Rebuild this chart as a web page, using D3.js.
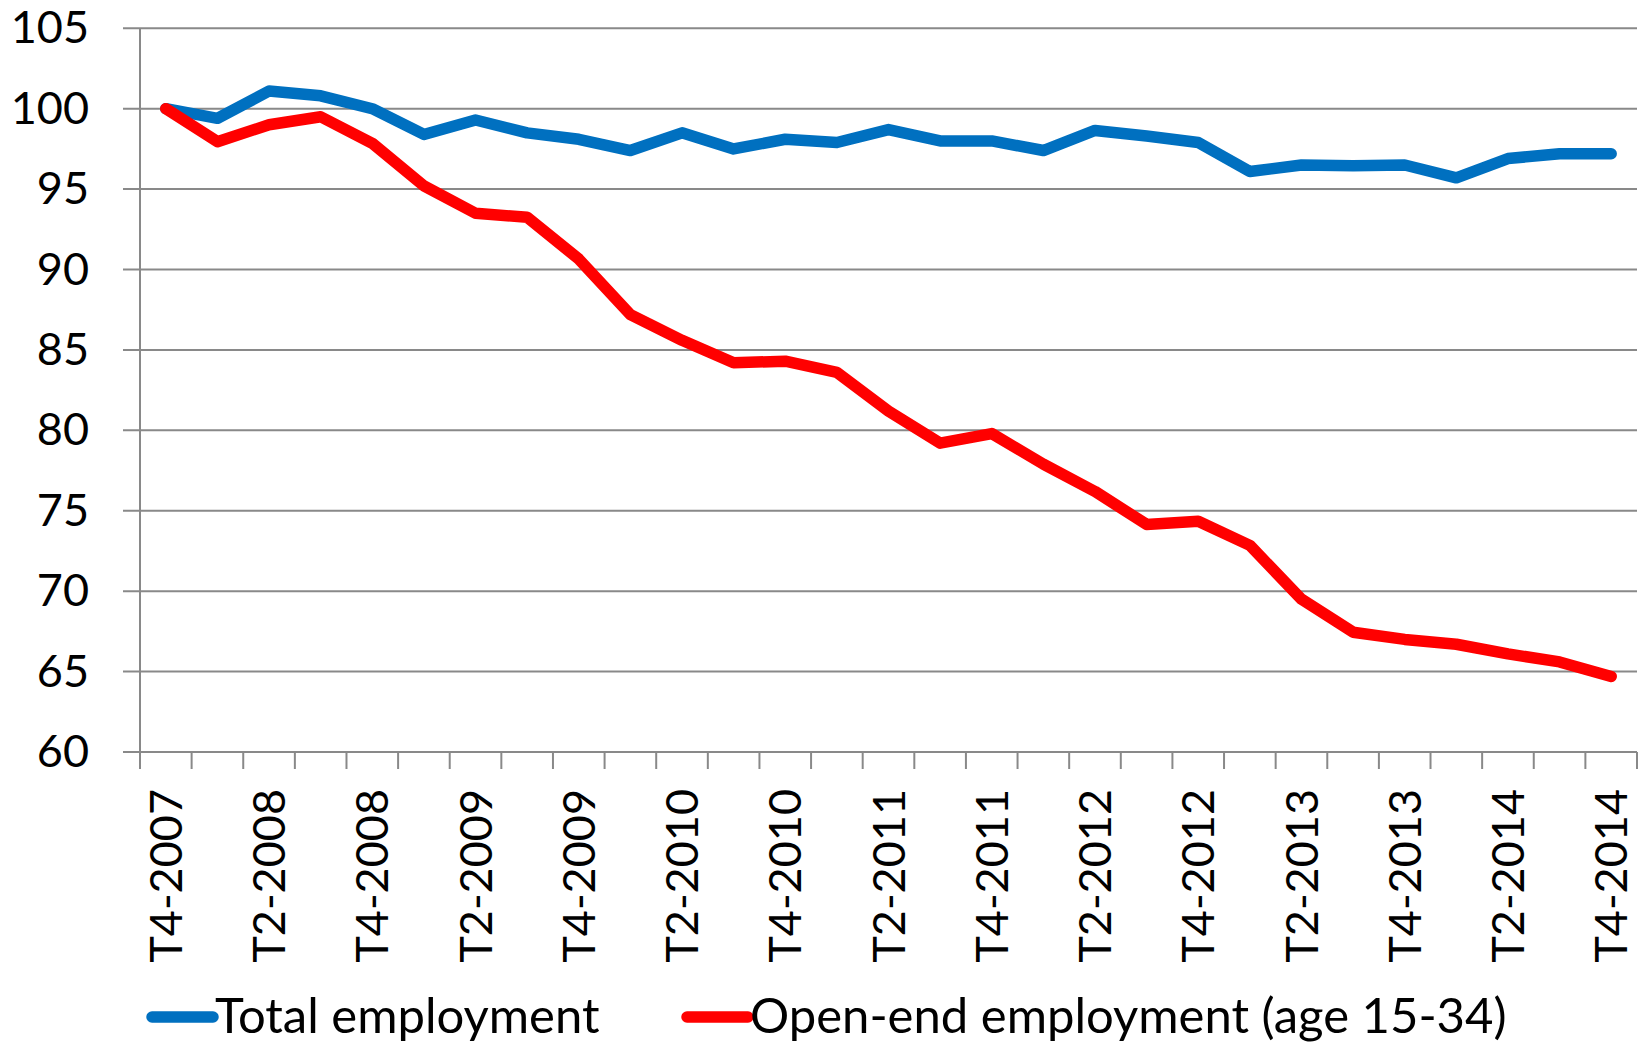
<!DOCTYPE html>
<html>
<head>
<meta charset="utf-8">
<script src="https://cdn.jsdelivr.net/npm/d3@7"></script>
<style>
  html, body { margin: 0; padding: 0; background: #fff; }
  svg { display: block; font-family: Lato, "Open Sans", sans-serif; }
</style>
</head>
<body>
<svg id="chart" width="1647" height="1046"></svg>
<script>
const categories = [
  "T4-2007","T1-2008","T2-2008","T3-2008","T4-2008",
  "T1-2009","T2-2009","T3-2009","T4-2009",
  "T1-2010","T2-2010","T3-2010","T4-2010",
  "T1-2011","T2-2011","T3-2011","T4-2011",
  "T1-2012","T2-2012","T3-2012","T4-2012",
  "T1-2013","T2-2013","T3-2013","T4-2013",
  "T1-2014","T2-2014","T3-2014","T4-2014"
];
const totalEmployment = [
  100, 99.4, 101.1, 100.8, 100.0,
  98.4, 99.3, 98.5, 98.1,
  97.4, 98.5, 97.5, 98.1,
  97.9, 98.7, 98.0, 98.0,
  97.4, 98.65, 98.3, 97.9,
  96.1, 96.5, 96.45, 96.5,
  95.7, 96.9, 97.2, 97.2
];
const openEndEmployment = [
  100, 97.95, 99.0, 99.5, 97.85,
  95.2, 93.5, 93.25, 90.65,
  87.2, 85.6, 84.2, 84.3,
  83.6, 81.2, 79.2, 79.8,
  77.9, 76.2, 74.15, 74.35,
  72.85, 69.5, 67.45, 67.0,
  66.7, 66.1, 65.6, 64.7
];
const yTicks = [60, 65, 70, 75, 80, 85, 90, 95, 100, 105];
const xLabels = categories.filter((d, i) => i % 2 === 0);
const seriesNames = ["Total employment", "Open-end employment (age 15-34)"];
const seriesColors = ["#0070C0", "#FF0000"];

(function () {
const svg = d3.select("#chart");
const plotLeft = 140, plotRight = 1637, plotTop = 28.3, plotBottom = 752;
const gridColor = "#898989";

const x = d3.scaleBand().domain(categories).range([plotLeft, plotRight]).padding(0);
const y = d3.scaleLinear().domain([60, 105]).range([plotBottom, plotTop]);
const xc = d => x(d) + x.bandwidth() / 2;

// gridlines
svg.append("g").selectAll("line").data(yTicks).join("line")
  .attr("x1", plotLeft - 17).attr("x2", plotRight)
  .attr("y1", d => y(d)).attr("y2", d => y(d))
  .attr("stroke", gridColor).attr("stroke-width", 2);

// y axis line
svg.append("line")
  .attr("x1", plotLeft).attr("x2", plotLeft)
  .attr("y1", plotTop).attr("y2", plotBottom + 17)
  .attr("stroke", gridColor).attr("stroke-width", 2);

// x ticks at band boundaries
const boundaries = categories.map(d => x(d)).concat([plotRight]);
svg.append("g").selectAll("line").data(boundaries.slice(1)).join("line")
  .attr("x1", d => d).attr("x2", d => d)
  .attr("y1", plotBottom).attr("y2", plotBottom + 17)
  .attr("stroke", gridColor).attr("stroke-width", 2);

// y labels
svg.append("g").selectAll("text").data(yTicks).join("text")
  .attr("x", 89).attr("y", d => y(d) + 15)
  .attr("text-anchor", "end")
  .attr("font-size", 45).attr("fill", "#000")
  .text(d => d);

// x labels
svg.append("g").selectAll("text").data(xLabels).join("text")
  .attr("transform", d => `translate(${xc(d)},789) rotate(-90)`)
  .attr("text-anchor", "end")
  .attr("dy", "0.36em")
  .attr("font-size", 45).attr("fill", "#000")
  .text(d => d);

// lines
const line = d3.line().x((d, i) => xc(categories[i])).y(d => y(d));
[totalEmployment, openEndEmployment].forEach((vals, k) => {
  svg.append("path")
    .datum(vals)
    .attr("d", line)
    .attr("fill", "none")
    .attr("stroke", seriesColors[k])
    .attr("stroke-width", 11.5)
    .attr("stroke-linejoin", "round")
    .attr("stroke-linecap", "round");
});

// legend
const legendItems = [
  { name: seriesNames[0], color: seriesColors[0], x1: 152, x2: 213, tx: 215 },
  { name: seriesNames[1], color: seriesColors[1], x1: 687, x2: 748, tx: 750 }
];
const lg = svg.append("g");
legendItems.forEach(it => {
  lg.append("line")
    .attr("x1", it.x1).attr("x2", it.x2)
    .attr("y1", 1017).attr("y2", 1017)
    .attr("stroke", it.color).attr("stroke-width", 11.5)
    .attr("stroke-linecap", "round");
  lg.append("text")
    .attr("x", it.tx).attr("y", 1033)
    .attr("font-size", 49).attr("fill", "#000")
    .text(it.name);
});
})();
</script>
</body>
</html>
